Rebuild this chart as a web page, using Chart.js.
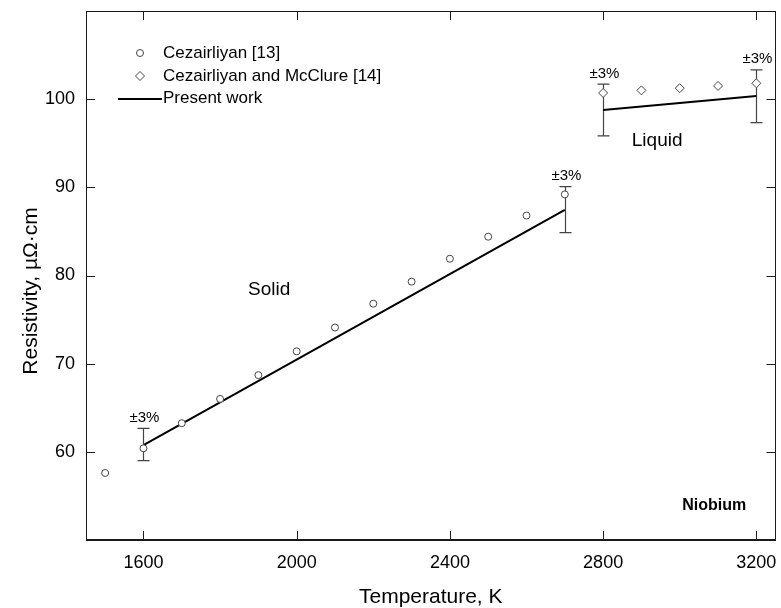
<!DOCTYPE html>
<html>
<head>
<meta charset="utf-8">
<script src="https://cdn.jsdelivr.net/npm/chart.js@4/dist/chart.umd.min.js"></script>
<style>
  html, body { margin: 0; padding: 0; background: #fff; }
  #wrap { width: 781px; height: 608px; }
</style>
</head>
<body>
<div id="wrap"><canvas id="c" width="781" height="608"></canvas></div>
<script>
// ---- Data ----
const tempC13 = [1500, 1600, 1700, 1800, 1900, 2000, 2100, 2200, 2300, 2400, 2500, 2600, 2700];
const rhoC13  = [57.6, 60.4, 63.25, 66.0, 68.7, 71.4, 74.1, 76.8, 79.3, 81.9, 84.4, 86.8, 89.2];

const tempC14 = [2800, 2900, 3000, 3100, 3200];
const rhoC14  = [100.7, 101.0, 101.25, 101.5, 101.8];

const tempSolidLine  = [1600, 2700];
const rhoSolidLine   = [60.77, 87.43];
const tempLiquidLine = [2800, 3200];
const rhoLiquidLine  = [98.77, 100.35];

const errTemp = [1600, 2700, 2800, 3200];
const errLow  = [59.0, 84.87, 95.83, 97.34];
const errHigh = [62.66, 90.07, 101.7, 103.33];
const errLabel = '±3%';

const xTickValues = [1600, 2000, 2400, 2800, 3200];
const yTickValues = [60, 70, 80, 90, 100];

const seriesLabels = ['Cezairliyan [13]', 'Cezairliyan and McClure [14]', 'Present work'];
const xTitle = 'Temperature, K';
const yTitle = 'Resistivity, µΩ·cm';

const zip = (xs, ys) => xs.map((x, i) => ({ x: x, y: ys[i] }));
const FONT = "'Liberation Sans', Arial, Helvetica, sans-serif";
const INK = '#1a1a1a';

// ---- Plugin: frame, inside ticks, error bars, annotations, legend, y title ----
const decor = {
  id: 'decor',
  beforeDatasetsDraw(chart) {
    const ctx = chart.ctx, xs = chart.scales.x, ys = chart.scales.y;
    ctx.save();
    ctx.strokeStyle = '#444';
    ctx.lineWidth = 1.2;
    ctx.fillStyle = '#000';
    ctx.font = '15px ' + FONT;
    ctx.textAlign = 'center';
    ctx.textBaseline = 'bottom';
    errTemp.forEach((t, i) => {
      const px = Math.round(xs.getPixelForValue(t)) + 0.5;
      const yt = ys.getPixelForValue(errHigh[i]);
      const yb = ys.getPixelForValue(errLow[i]);
      ctx.beginPath();
      ctx.moveTo(px, yt); ctx.lineTo(px, yb);
      ctx.moveTo(px - 6, yt); ctx.lineTo(px + 6, yt);
      ctx.moveTo(px - 6, yb); ctx.lineTo(px + 6, yb);
      ctx.stroke();
      ctx.fillText(errLabel, px + 1, yt - 3);
    });
    ctx.restore();
  },
  afterDraw(chart) {
    const ctx = chart.ctx, a = chart.chartArea, xs = chart.scales.x, ys = chart.scales.y;
    ctx.save();
    // frame
    ctx.strokeStyle = INK;
    ctx.lineWidth = 1;
    ctx.strokeRect(Math.round(a.left) + 0.5, Math.round(a.top) + 0.5,
                   Math.round(a.right - a.left) - 1, Math.round(a.bottom - a.top) - 1);
    // inside ticks
    const TL = 9;
    ctx.beginPath();
    xTickValues.forEach(v => {
      const px = Math.round(xs.getPixelForValue(v)) + 0.5;
      ctx.moveTo(px, a.bottom); ctx.lineTo(px, a.bottom - TL);
      ctx.moveTo(px, a.top); ctx.lineTo(px, a.top + TL);
    });
    yTickValues.forEach(v => {
      const py = Math.round(ys.getPixelForValue(v)) + 0.5;
      ctx.moveTo(a.left, py); ctx.lineTo(a.left + TL, py);
      ctx.moveTo(a.right, py); ctx.lineTo(a.right - TL, py);
    });
    ctx.stroke();

    // annotations
    ctx.fillStyle = '#000';
    ctx.textAlign = 'center';
    ctx.textBaseline = 'middle';
    ctx.font = '19px ' + FONT;
    ctx.fillText('Solid', xs.getPixelForValue(1928), ys.getPixelForValue(78.4));
    ctx.fillText('Liquid', xs.getPixelForValue(2941), ys.getPixelForValue(95.3));
    ctx.font = 'bold 16px ' + FONT;
    ctx.fillText('Niobium', xs.getPixelForValue(3090), ys.getPixelForValue(53.9));

    // legend
    const lx = a.left + 54, tx = a.left + 77;
    const rows = [a.top + 42, a.top + 65, a.top + 87];
    ctx.font = '17px ' + FONT;
    ctx.textAlign = 'left';
    ctx.textBaseline = 'middle';
    ctx.strokeStyle = '#444';
    ctx.lineWidth = 1;
    ctx.fillStyle = '#fff';
    ctx.beginPath(); ctx.arc(lx, rows[0], 3.5, 0, Math.PI * 2); ctx.fill(); ctx.stroke();
    ctx.beginPath();
    ctx.moveTo(lx, rows[1] - 4.5); ctx.lineTo(lx + 4.5, rows[1]);
    ctx.lineTo(lx, rows[1] + 4.5); ctx.lineTo(lx - 4.5, rows[1]); ctx.closePath();
    ctx.fill(); ctx.stroke();
    ctx.strokeStyle = '#000'; ctx.lineWidth = 2;
    ctx.beginPath(); ctx.moveTo(a.left + 32, rows[2] + 1); ctx.lineTo(a.left + 76, rows[2] + 1); ctx.stroke();
    ctx.fillStyle = '#000';
    seriesLabels.forEach((s, i) => ctx.fillText(s, tx, rows[i]));

    // y axis title
    ctx.save();
    ctx.translate(31, 291);
    ctx.rotate(-Math.PI / 2);
    ctx.textAlign = 'center';
    ctx.textBaseline = 'middle';
    ctx.font = '21px ' + FONT;
    ctx.fillText(yTitle, 0, 0);
    ctx.restore();

    ctx.restore();
  }
};

new Chart(document.getElementById('c'), {
  type: 'scatter',
  data: {
    datasets: [
      {
        label: seriesLabels[2],
        data: zip(tempSolidLine, rhoSolidLine),
        showLine: true, borderColor: '#000', borderWidth: 2, pointRadius: 0, order: 2
      },
      {
        label: seriesLabels[2] + ' (liquid)',
        data: zip(tempLiquidLine, rhoLiquidLine),
        showLine: true, borderColor: '#000', borderWidth: 2, pointRadius: 0, order: 2
      },
      {
        label: seriesLabels[0],
        data: zip(tempC13, rhoC13),
        pointStyle: 'circle', pointRadius: 3.5, borderWidth: 1,
        borderColor: '#444', backgroundColor: '#fff', order: 1
      },
      {
        label: seriesLabels[1],
        data: zip(tempC14, rhoC14),
        pointStyle: 'rectRot', pointRadius: 4.5, borderWidth: 1,
        borderColor: '#444', backgroundColor: '#fff', order: 1
      }
    ]
  },
  options: {
    responsive: false,
    animation: false,
    layout: { padding: { left: 0, top: 11, right: 3, bottom: 0 } },
    plugins: { legend: { display: false }, tooltip: { enabled: false } },
    scales: {
      x: {
        type: 'linear', min: 1450, max: 3250,
        afterBuildTicks: s => { s.ticks = xTickValues.map(v => ({ value: v })); },
        afterFit: s => { s.height = 68; s.paddingLeft = 0; s.paddingRight = 0; },
        grid: { display: false, drawTicks: false },
        border: { display: true, color: INK, width: 1 },
        ticks: { color: '#000', font: { family: FONT, size: 18 }, padding: 12, maxRotation: 0,
                 callback: v => String(v) },
        title: { display: true, text: xTitle, color: '#000',
                 font: { family: FONT, size: 21, lineHeight: 1 }, padding: { top: 0, bottom: 0 } }
      },
      y: {
        type: 'linear', min: 50, max: 110,
        afterBuildTicks: s => { s.ticks = yTickValues.map(v => ({ value: v })); },
        afterFit: s => { s.width = 86; s.paddingTop = 0; s.paddingBottom = 0; },
        grid: { display: false, drawTicks: false },
        border: { display: true, color: INK, width: 1 },
        ticks: { color: '#000', font: { family: FONT, size: 18 }, padding: 11,
                 callback: v => String(v) }
      }
    }
  },
  plugins: [decor]
});
</script>
</body>
</html>
